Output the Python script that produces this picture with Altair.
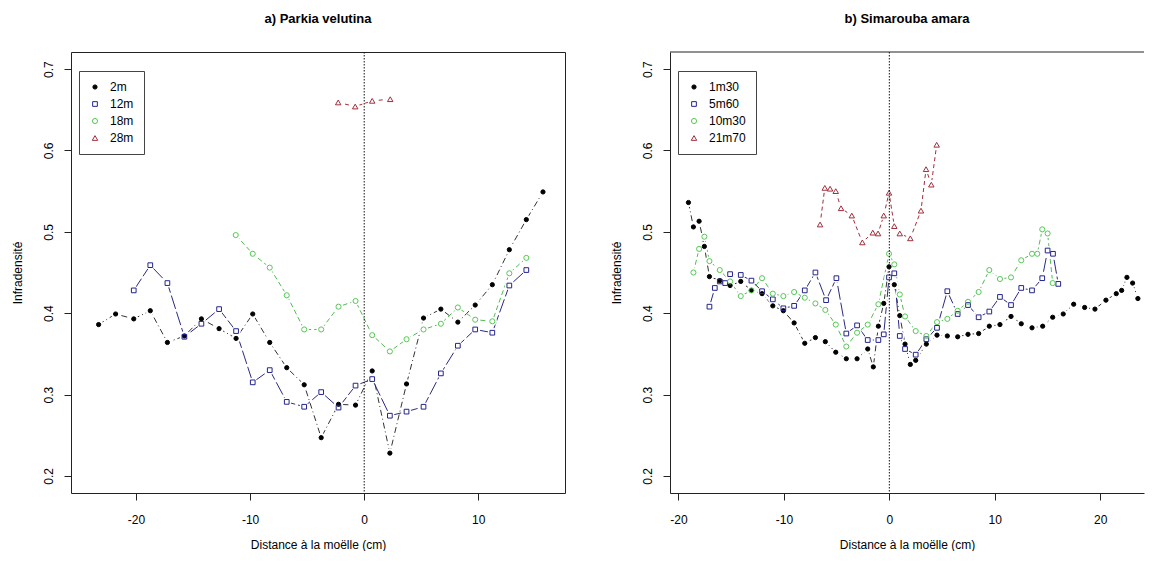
import altair as alt
import pandas as pd

# ---------------- Panel a) Parkia velutina ----------------
a_series = ["2m", "12m", "18m", "28m"]
a_2m_x = [-23.28, -21.79, -20.2, -18.75, -17.25, -15.76, -14.27, -12.72, -11.23, -9.77, -8.28, -6.79, -5.26,
          -3.77, -2.25, -0.76, 0.70, 2.25, 3.71, 5.2, 6.72, 8.21, 9.73, 11.23, 12.72, 14.21, 15.67]
a_2m_y = [0.386, 0.399, 0.393, 0.403, 0.364, 0.372, 0.393, 0.381, 0.369, 0.399, 0.364, 0.333, 0.312,
          0.247, 0.288, 0.287, 0.329, 0.228, 0.313, 0.394, 0.405, 0.389, 0.410, 0.435, 0.478, 0.515, 0.549]
a_12m_x = [-20.2, -18.75, -17.25, -15.76, -14.27, -12.72, -11.23, -9.77, -8.28, -6.79, -5.26, -3.77,
           -2.25, -0.76, 0.70, 2.25, 3.71, 5.2, 6.72, 8.21, 9.73, 11.23, 12.72, 14.21]
a_12m_y = [0.428, 0.459, 0.437, 0.371, 0.387, 0.405, 0.378, 0.315, 0.330, 0.291, 0.285, 0.303,
           0.284, 0.311, 0.319, 0.274, 0.279, 0.285, 0.326, 0.360, 0.380, 0.376, 0.434, 0.453]
a_18m_x = [-11.26, -9.77, -8.28, -6.79, -5.26, -3.77, -2.25, -0.76, 0.70, 2.25, 3.71, 5.2, 6.72,
           8.21, 9.73, 11.23, 12.72, 14.21]
a_18m_y = [0.496, 0.473, 0.456, 0.422, 0.380, 0.380, 0.408, 0.415, 0.373, 0.353, 0.368, 0.380, 0.387,
           0.407, 0.392, 0.390, 0.449, 0.468]
a_28m_x = [-2.28, -0.79, 0.70, 2.28]
a_28m_y = [0.659, 0.654, 0.661, 0.663]

# ---------------- Panel b) Simarouba amara ----------------
b_series = ["1m30", "5m60", "10m30", "21m70"]
b_1m30_x = [-19.05, -18.58, -18.04, -17.54, -17.06, -16.08, -15.1, -14.09, -13.08, -12.07, -11.05, -10.05,
            -9.03, -8.02, -7.01, -6.07, -5.08, -4.08, -3.06, -2.05, -1.52, -1.04, -0.53, -0.03, 0.47,
            0.99, 1.49, 1.99, 2.5, 3.51, 4.52, 5.5, 6.48, 7.46, 8.47, 9.48, 10.49, 11.54, 12.51, 13.53,
            14.54, 15.49, 16.49, 17.48, 18.52, 19.5, 20.54, 21.52, 22.03, 22.53, 23.07, 23.57]
b_1m30_y = [0.536, 0.506, 0.513, 0.482, 0.445, 0.440, 0.434, 0.439, 0.428, 0.424, 0.409, 0.403,
            0.388, 0.363, 0.370, 0.365, 0.352, 0.344, 0.344, 0.356, 0.334, 0.384, 0.412, 0.457, 0.435,
            0.397, 0.362, 0.337, 0.342, 0.362, 0.373, 0.372, 0.371, 0.374, 0.375, 0.384, 0.386, 0.396,
            0.387, 0.382, 0.384, 0.395, 0.399, 0.411, 0.407, 0.405, 0.416, 0.424, 0.428, 0.444, 0.437, 0.418]
b_5m60_x = [-17.06, -16.55, -16.08, -15.57, -15.1, -14.09, -13.08, -12.07, -11.05, -10.05, -9.03, -8.02,
            -7.01, -6.0, -5.02, -4.08, -3.06, -2.05, -1.04, -0.53, -0.03, 0.47, 0.99, 1.49, 2.5, 3.51,
            4.52, 5.5, 6.48, 7.46, 8.47, 9.48, 10.49, 11.54, 12.51, 13.53, 14.5, 15.01, 15.52, 16.02]
b_5m60_y = [0.408, 0.431, 0.439, 0.437, 0.448, 0.447, 0.440, 0.427, 0.417, 0.406, 0.409, 0.428,
            0.450, 0.416, 0.443, 0.375, 0.385, 0.367, 0.367, 0.374, 0.444, 0.449, 0.372, 0.356, 0.349,
            0.368, 0.382, 0.427, 0.399, 0.410, 0.395, 0.402, 0.420, 0.410, 0.431, 0.428, 0.443, 0.477,
            0.473, 0.436]
b_10m30_x = [-18.58, -18.04, -17.54, -17.06, -16.08, -15.1, -14.09, -13.08, -12.07, -11.05, -10.05, -9.03,
             -8.02, -7.01, -6.07, -5.08, -4.08, -3.06, -2.05, -1.04, -0.03, 0.47, 0.99, 1.49, 2.5, 3.51,
             4.52, 5.5, 6.48, 7.46, 8.47, 9.48, 10.49, 11.54, 12.51, 13.53, 14.03, 14.5, 15.01, 15.49]
b_10m30_y = [0.450, 0.479, 0.494, 0.464, 0.453, 0.439, 0.421, 0.428, 0.443, 0.424, 0.421, 0.426,
             0.419, 0.412, 0.404, 0.386, 0.359, 0.376, 0.386, 0.411, 0.473, 0.460, 0.423, 0.396, 0.378,
             0.372, 0.389, 0.393, 0.403, 0.414, 0.426, 0.453, 0.442, 0.444, 0.465, 0.473, 0.473, 0.503,
             0.498, 0.437]
b_21m70_x = [-6.57, -6.12, -5.62, -5.08, -4.58, -3.56, -2.56, -1.57, -1.07, -0.53, -0.03, 0.47, 0.99,
             1.99, 3.0, 3.48, 3.98, 4.49]
b_21m70_y = [0.509, 0.554, 0.553, 0.550, 0.529, 0.520, 0.487, 0.499, 0.498, 0.520, 0.548, 0.507, 0.498,
             0.492, 0.526, 0.577, 0.558, 0.607]

y_ticks = [0.2, 0.3, 0.4, 0.5, 0.6, 0.7]
a_x_ticks = [-20, -10, 0, 10]
b_x_ticks = [-20, -10, 0, 10, 20]
zero_line = [0]

FONT = "Liberation Sans"
shapes = ["circle", "square", "circle", "triangle-up"]
point_strokes = ["#000000", "#24248e", "#55c855", "#a02f3c"]
point_fills = ["#000000", "transparent", "transparent", "transparent"]
point_sizes = [18, 30, 24, 40]
line_colors = ["#333333", "#2a2a84", "#55bb55", "#a02f3c"]
line_dashes = [[6, 3, 1, 3], [14, 3], [5, 3], [4, 3]]


def build_frame(names, xs, ys):
    rows = []
    for name, xv, yv in zip(names, xs, ys):
        for i, (xx, yy) in enumerate(zip(xv, yv)):
            rows.append({"serie": name, "dist": xx, "infra": yy, "ordre": i})
    return pd.DataFrame(rows)


def panel(df, names, title, xdom, xticks, width, height, boxed):
    leg = alt.Legend(orient="none", legendX=8, legendY=19, title=None, direction="vertical",
                     strokeColor="#444", fillColor="white", padding=10, labelFontSize=12,
                     labelColor="black", rowPadding=5, labelOffset=9, symbolStrokeWidth=1,
                     labelFont=FONT)
    x_axis = alt.Axis(values=xticks, title="Distance à la moëlle (cm)", labelExpr="datum.value + ''",
                      domain=not boxed, domainColor="#222")
    y_axis = alt.Axis(values=y_ticks, title="Infradensité", labelAngle=270, format=".1f",
                      domain=not boxed, domainColor="#222")
    x = alt.X("dist:Q", scale=alt.Scale(domain=xdom, nice=False, zero=False), axis=x_axis)
    y = alt.Y("infra:Q", scale=alt.Scale(domain=[0.179, 0.721], nice=False, zero=False), axis=y_axis)
    base = alt.Chart(df)
    layers = []
    for name, lc, dash in zip(names, line_colors, line_dashes):
        layers.append(
            base.transform_filter(alt.datum.serie == name)
            .mark_line(strokeWidth=1, color=lc, strokeDash=dash)
            .encode(x=x, y=y, order="ordre:Q")
        )
    halos = base.mark_point(shape="circle", filled=True, color="white", size=85, opacity=1).encode(x=x, y=y)
    points = base.mark_point(opacity=1, strokeWidth=1).encode(
        x=x, y=y,
        stroke=alt.Stroke("serie:N", scale=alt.Scale(domain=names, range=point_strokes), legend=leg),
        fill=alt.Fill("serie:N", scale=alt.Scale(domain=names, range=point_fills), legend=leg),
        shape=alt.Shape("serie:N", scale=alt.Scale(domain=names, range=shapes), legend=leg),
        size=alt.Size("serie:N", scale=alt.Scale(domain=names, range=point_sizes), legend=leg),
    )
    zero = alt.Chart(pd.DataFrame({"dist": zero_line})).mark_rule(
        color="#111", strokeDash=[1.5, 1.5], strokeWidth=1).encode(x=alt.X("dist:Q"))
    layers += [halos, points, zero]
    if not boxed:
        top = alt.Chart(pd.DataFrame({"dist": zero_line})).mark_rule(color="#222", strokeWidth=1).encode(
            x=alt.value(0), x2=alt.value(width), y=alt.value(0))
        layers.append(top)
    ch = alt.layer(*layers).properties(
        width=width, height=height,
        title=alt.Title(title, fontSize=13, fontWeight="bold", font=FONT, anchor="middle", offset=26,
                        color="black"),
    )
    if not boxed:
        ch = ch.properties(view=alt.ViewBackground(stroke="transparent"))
    return ch


df_a = build_frame(a_series, [a_2m_x, a_12m_x, a_18m_x, a_28m_x], [a_2m_y, a_12m_y, a_18m_y, a_28m_y])
df_b = build_frame(b_series, [b_1m30_x, b_5m60_x, b_10m30_x, b_21m70_x],
                   [b_1m30_y, b_5m60_y, b_10m30_y, b_21m70_y])

pa = panel(df_a, a_series, "a) Parkia velutina", [-25.7, 17.6], a_x_ticks, 494, 441, True)
pb = panel(df_b, b_series, "b) Simarouba amara", [-20.8, 24.15], b_x_ticks, 474, 441, False)

chart = alt.hconcat(pa, pb, spacing=43).resolve_scale(
    x="independent", y="independent", stroke="independent", fill="independent",
    shape="independent", size="independent"
).resolve_legend(
    stroke="independent", fill="independent", shape="independent", size="independent"
).properties(
    padding={"left": 2, "top": 4, "right": 0, "bottom": 0}
).configure(font=FONT, background="white").configure_view(
    stroke="#222", strokeWidth=1
).configure_axis(
    grid=False, tickColor="#222", tickSize=7, labelFontSize=12, labelColor="black",
    titleFontSize=12, titleFontWeight="normal", titleColor="black", titleFont=FONT, labelFont=FONT,
).configure_axisY(
    labelPadding=9, titlePadding=18
).configure_axisX(
    labelPadding=14, titlePadding=14
)

chart.save("out.html", embed_options={"renderer": "svg", "actions": False})
